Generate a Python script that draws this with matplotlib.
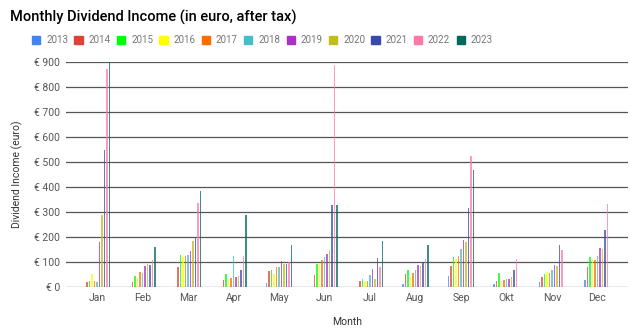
import matplotlib
matplotlib.use("Agg")
import matplotlib.pyplot as plt
from matplotlib.patches import Patch
import numpy as np

plt.rcParams['font.family'] = ['Roboto', 'DejaVu Sans']

months = ["Jan", "Feb", "Mar", "Apr", "May", "Jun", "Jul", "Aug", "Sep", "Okt", "Nov", "Dec"]
years = ["2013", "2014", "2015", "2016", "2017", "2018", "2019", "2020", "2021", "2022", "2023"]
colors = ["#4285F4", "#DB4437", "#00FF00", "#FFFF00", "#FF6D00", "#46BDC6",
          "#AB30C4", "#C2BC1C", "#3949AB", "#FF77A9", "#00695C"]

# values per year, Jan..Dec (euro)
y2013 = [0, 0, 0, 0, 17, 0, 0, 13, 44, 13, 20, 27]
y2014 = [21, 21, 79, 27, 65, 47, 24, 53, 84, 23, 40, 80]
y2015 = [24, 45, 128, 52, 67, 93, 31, 67, 121, 56, 53, 120]
y2016 = [53, 36, 119, 33, 53, 95, 21, 39, 112, 23, 60, 113]
y2017 = [25, 59, 125, 35, 80, 109, 24, 56, 125, 27, 57, 109]
y2018 = [21, 56, 128, 123, 79, 120, 49, 67, 151, 33, 67, 125]
y2019 = [180, 85, 145, 40, 104, 133, 71, 89, 189, 33, 89, 156]
y2020 = [287, 92, 185, 43, 92, 147, 33, 85, 180, 40, 85, 152]
y2021 = [547, 89, 200, 69, 92, 329, 117, 100, 315, 67, 167, 229]
y2022 = [873, 109, 336, 124, 99, 887, 80, 113, 523, 113, 147, 333]
y2023 = [960, 160, 384, 289, 169, 329, 184, 169, 469, 0, 0, 0]
series = [y2013, y2014, y2015, y2016, y2017, y2018, y2019, y2020, y2021, y2022, y2023]

fig = plt.figure(figsize=(6.4, 3.35), dpi=100)
ax = fig.add_axes([0.103, 0.143, 0.878, 0.672])

x = np.arange(len(months))
slot = 2.5 / 45.5
for j, vals in enumerate(series):
    ax.bar(x + (j - 5) * slot, vals, width=0.034, color=colors[j], alpha=0.75,
           linewidth=0, zorder=3)

ax.set_xlim(-0.684, 11.668)
ax.set_ylim(0, 900)
ax.set_yticks(range(0, 901, 100))
ax.set_yticklabels([f"€ {v}" for v in range(0, 901, 100)])
ax.set_xticks(x)
ax.set_xticklabels(months)
ax.grid(axis="y", color="#555555", linewidth=0.9, zorder=0)
ax.tick_params(length=0, labelsize=7.5, colors="#555555", pad=4)
for s in ax.spines.values():
    s.set_visible(False)

ax.set_xlabel("Month", fontsize=7.5, color="#333333", labelpad=10)
ax.set_ylabel("Dividend Income (euro)", fontsize=7.5, color="#333333", labelpad=8)

fig.text(0.016, 0.948, "Monthly Dividend Income (in euro, after tax)", fontsize=10.5,
         fontweight="medium", color="#000000", va="center")

handles = [Patch(color=c, label=y) for c, y in zip(colors, years)]
fig.legend(handles=handles, loc="center", bbox_to_anchor=(0.41, 0.88), ncol=11,
           frameon=False, fontsize=7, labelcolor="#777777", handlelength=0.85,
           handleheight=0.85, handletextpad=0.6, columnspacing=0.65)

fig.savefig("out.png", dpi=100)
